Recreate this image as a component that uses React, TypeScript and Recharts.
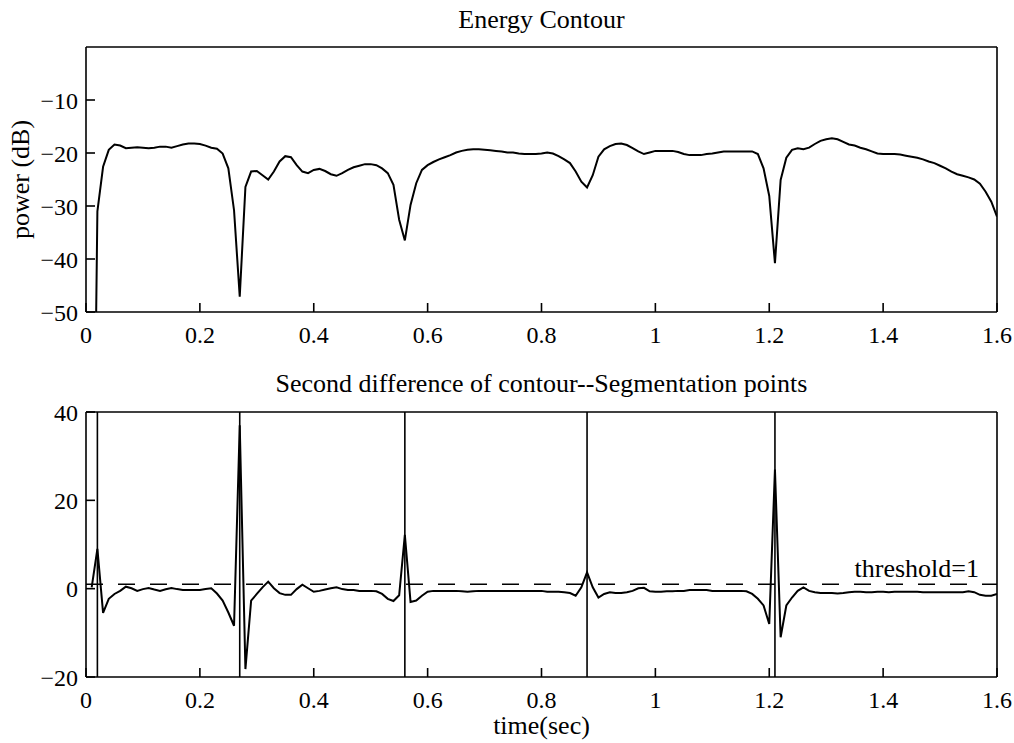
import React from 'react';
import { LineChart, Line, XAxis, YAxis, ReferenceLine } from 'recharts';

const FONT = '"Liberation Serif", "Times New Roman", serif';

// frames are 10 ms apart, first frame at 0.01 s
const frameStep = 0.01;

const timeTicks = [0, 0.2, 0.4, 0.6, 0.8, 1, 1.2, 1.4, 1.6];
const powerTicks = [-50, -40, -30, -20, -10];
const diffTicks = [-20, 0, 20, 40];

// energy contour, dB (first frame is far below the axis and gets clipped)
const energyDb = [
  -120, -31, -22.6, -19.4, -18.4, -18.6, -19.1, -19.0, -18.9, -19.0,
  -19.1, -19.0, -18.8, -18.8, -19.0, -18.7, -18.4, -18.2, -18.2, -18.3,
  -18.6, -19.0, -19.2, -20.1, -22.9, -30.8, -47.1, -26.4, -23.5, -23.4,
  -24.2, -25.0, -23.5, -21.6, -20.6, -20.8, -22.3, -23.5, -23.8, -23.2,
  -23.0, -23.4, -24.0, -24.3, -23.8, -23.2, -22.7, -22.4, -22.1, -22.1,
  -22.3, -22.9, -23.8, -26.0, -32.6, -36.5, -29.8, -25.7, -23.2, -22.3,
  -21.7, -21.2, -20.8, -20.4, -19.9, -19.6, -19.4, -19.3, -19.3, -19.4,
  -19.5, -19.6, -19.7, -19.9, -19.9, -20.1, -20.2, -20.2, -20.2, -20.1,
  -19.9, -20.1, -20.6, -21.2, -21.9, -23.5, -25.4, -26.5, -24.2, -20.7,
  -19.3, -18.7, -18.3, -18.2, -18.5, -19.1, -19.7, -20.2, -19.9, -19.6,
  -19.6, -19.6, -19.6, -19.8, -20.2, -20.4, -20.4, -20.4, -20.2, -20.1,
  -19.9, -19.7, -19.7, -19.7, -19.7, -19.7, -19.7, -20.2, -22.9, -28.1,
  -40.8, -25.1, -20.9, -19.4, -19.1, -19.3, -19.0, -18.3, -17.7, -17.4,
  -17.2, -17.4, -17.9, -18.4, -18.6, -19.0, -19.3, -19.7, -20.1, -20.2,
  -20.2, -20.2, -20.3, -20.5, -20.7, -20.9, -21.2, -21.6, -21.9, -22.4,
  -22.9, -23.5, -24.0, -24.3, -24.6, -25.0, -25.8, -27.3, -29.2, -32.0,
];

// second difference of the contour
const secondDiff = [
  0.3, 9.0, -5.5, -2.3, -1.2, -0.5, 0.45, 0.1, -0.5, -0.1,
  0.15, -0.2, -0.5, -0.15, 0.15, -0.1, -0.3, -0.3, -0.3, -0.3,
  -0.1, 0.1, -1.1, -2.7, -5.4, -8.4, 37, -18.2, -2.7, -1.2,
  0.3, 1.6, 0.1, -1.0, -1.4, -1.4, -0.1, 0.9, 0.1, -0.7,
  -0.5, -0.2, 0.1, 0.3, -0.1, -0.3, -0.3, -0.5, -0.5, -0.5,
  -0.6, -1.2, -2.3, -2.8, -1.5, 12.2, -3.0, -2.7, -1.6, -0.7,
  -0.5, -0.5, -0.5, -0.5, -0.5, -0.6, -0.7, -0.6, -0.5, -0.5,
  -0.5, -0.5, -0.5, -0.5, -0.5, -0.5, -0.5, -0.5, -0.5, -0.5,
  -0.7, -0.7, -0.7, -0.8, -1.0, -1.6, 0.3, 3.7, 0.3, -2.0,
  -1.2, -0.8, -1.0, -1.0, -0.8, -0.5, 0.1, 0.2, -0.6, -0.7,
  -0.7, -0.6, -0.6, -0.5, -0.5, -0.3, -0.3, -0.3, -0.3, -0.5,
  -0.5, -0.5, -0.5, -0.5, -0.5, -0.6, -1.2, -2.3, -3.8, -8.0,
  27, -11.0, -3.8, -2.0, -0.5, 0.3, -0.5, -0.8, -1.0, -1.0,
  -1.0, -1.1, -1.0, -0.8, -0.7, -0.7, -0.8, -0.8, -0.7, -0.7,
  -0.8, -0.7, -0.7, -0.7, -0.7, -0.7, -0.8, -0.8, -0.8, -0.8,
  -0.8, -0.8, -0.8, -0.8, -0.6, -0.8, -1.4, -1.6, -1.6, -1.2,
];

const segmentTimes = [0.02, 0.27, 0.56, 0.88, 1.21];
const threshold = 1;

const toRows = (vals: number[]) =>
  vals.map((v, i) => ({ t: Math.round((i + 1) * frameStep * 100) / 100, v }));

const energyRows = toRows(energyDb);
const diffRows = toRows(secondDiff);

const TICK_FS = 24;
const axisStroke = { stroke: '#000', strokeWidth: 1.6 };
const fmtY = (v: number) => (v < 0 ? `\u2212${-v}` : `${v}`);

const XTick = (props: any) => {
  const { x, y, payload } = props;
  return (
    <text x={x} y={y} dy={TICK_FS * 0.71} textAnchor="middle" fill="#000" fontSize={TICK_FS} fontFamily={FONT}>
      {`${payload.value}`}
    </text>
  );
};

const YTick = (props: any) => {
  const { x, y, payload } = props;
  return (
    <text x={x} y={y} dy={TICK_FS * 0.355} textAnchor="end" fill="#000" fontSize={TICK_FS} fontFamily={FONT}>
      {fmtY(payload.value)}
    </text>
  );
};

const ThresholdLabel = (props: any) => {
  const vb = props.viewBox;
  if (!vb) return null;
  return (
    <text x={vb.x + vb.width - 18} y={vb.y - 7} textAnchor="end" fill="#000" fontSize={26} fontFamily={FONT}>
      {`threshold=${threshold}`}
    </text>
  );
};

// box axes: bottom/left carry labels, top/right only mirror the inward ticks
const boxAxes = (yDomain: number[], yTicks: number[], title: string, titleOffset: number) => [
  <XAxis
    key="xt"
    xAxisId="top"
    orientation="top"
    type="number"
    domain={[0, 1.6]}
    ticks={timeTicks}
    allowDataOverflow
    height={1}
    tick={false}
    tickSize={-9}
    axisLine={axisStroke}
    tickLine={axisStroke}
    label={{ value: title, position: 'top', offset: titleOffset, fill: '#000', fontSize: 26, fontFamily: FONT }}
  />,
  <YAxis
    key="yr"
    yAxisId="r"
    orientation="right"
    type="number"
    domain={yDomain}
    ticks={yTicks}
    allowDataOverflow
    width={1}
    tick={false}
    tickSize={-9}
    axisLine={axisStroke}
    tickLine={axisStroke}
  />,
];

export default function App() {
  return (
    <div style={{ position: 'absolute', left: 0, top: 0, width: 1014, height: 743, background: '#fff' }}>
      <div style={{ position: 'absolute', left: 0, top: 0 }}>
        <LineChart width={1014} height={360} data={energyRows} margin={{ top: 46, right: 16, bottom: 18, left: 0 }}>
          <XAxis
            dataKey="t"
            type="number"
            domain={[0, 1.6]}
            ticks={timeTicks}
            allowDataOverflow
            height={30}
            tickSize={-9}
            tickMargin={23}
            tick={<XTick />}
            axisLine={axisStroke}
            tickLine={axisStroke}
          />
          <YAxis
            type="number"
            domain={[-50, 0]}
            ticks={powerTicks}
            allowDataOverflow
            width={86}
            tickSize={-9}
            tickMargin={17}
            tick={<YTick />}
            axisLine={axisStroke}
            tickLine={axisStroke}
            label={{
              value: 'power (dB)',
              angle: -90,
              position: 'insideLeft',
              offset: 20,
              fill: '#000',
              fontSize: 26,
              fontFamily: FONT,
              style: { textAnchor: 'middle' },
            }}
          />
          {boxAxes([-50, 0], powerTicks, 'Energy Contour', 18)}
          <Line type="linear" dataKey="v" stroke="#000" strokeWidth={2} dot={false} isAnimationActive={false} />
        </LineChart>
      </div>
      <div style={{ position: 'absolute', left: 0, top: 360 }}>
        <LineChart width={1014} height={383} data={diffRows} margin={{ top: 51, right: 16, bottom: 6, left: 0 }}>
          <XAxis
            dataKey="t"
            type="number"
            domain={[0, 1.6]}
            ticks={timeTicks}
            allowDataOverflow
            height={60}
            tickSize={-9}
            tickMargin={23}
            tick={<XTick />}
            axisLine={axisStroke}
            tickLine={axisStroke}
            label={{ value: 'time(sec)', position: 'insideBottom', offset: 3, fill: '#000', fontSize: 26, fontFamily: FONT }}
          />
          <YAxis
            type="number"
            domain={[-20, 40]}
            ticks={diffTicks}
            allowDataOverflow
            width={86}
            tickSize={-9}
            tickMargin={17}
            tick={<YTick />}
            axisLine={axisStroke}
            tickLine={axisStroke}
          />
          {boxAxes([-20, 40], diffTicks, 'Second difference of contour--Segmentation points', 19)}
          <ReferenceLine
            y={threshold}
            stroke="#000"
            strokeWidth={1.5}
            strokeDasharray="17 15"
            label={<ThresholdLabel />}
          />
          {segmentTimes.map((s) => (
            <ReferenceLine key={s} x={s} stroke="#000" strokeWidth={1.6} />
          ))}
          <Line type="linear" dataKey="v" stroke="#000" strokeWidth={2} dot={false} isAnimationActive={false} />
        </LineChart>
      </div>
    </div>
  );
}
